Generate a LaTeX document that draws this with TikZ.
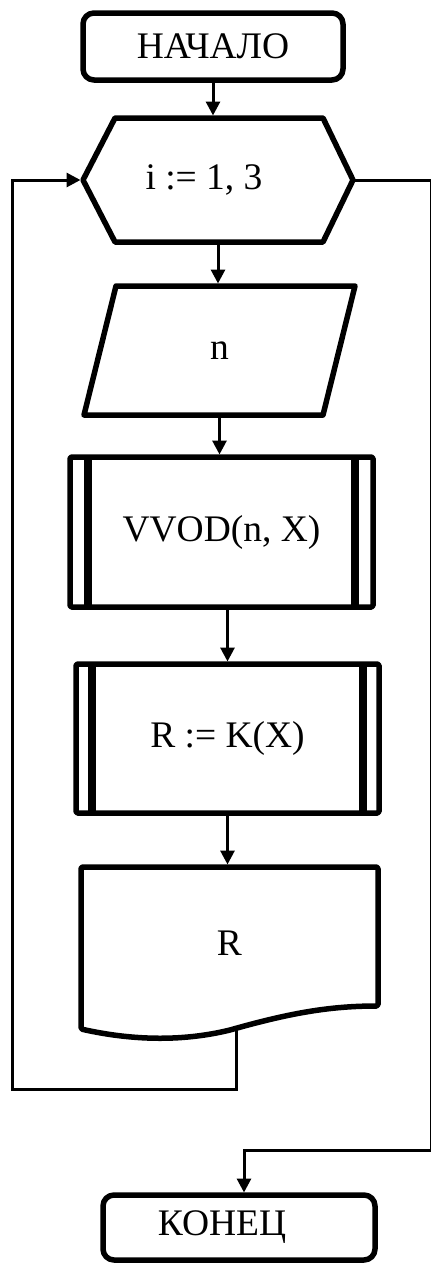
\documentclass[tikz,border=0pt]{standalone}
\usepackage{fontspec}
\setmainfont{Liberation Serif}
\usetikzlibrary{arrows.meta}
\begin{document}
\begin{tikzpicture}[x=1pt,y=-1pt,
  shp/.style={line width=5.5pt, line join=round, inner sep=0pt, outer sep=0pt, font=\fontsize{37.5}{40}\selectfont},
  term/.style={shp, draw, rounded corners=11pt},
  subr/.style={shp, draw, rounded corners=1.5pt},
  conn/.style={line width=3pt, shorten >=2.5pt, -{Triangle[length=14pt,width=14pt]}},
  bar/.style={line width=7.5pt}]
\useasboundingbox (0,0) rectangle (431,1269);

% start
\node[term, minimum width=260pt, minimum height=67pt] (start) at (213,46.5) {НАЧАЛО};

% loop hexagon
\node[shp, minimum width=270pt, minimum height=124pt] (hex) at (218,180) {\hspace*{-28pt}i := 1, 3};
\draw[shp] (hex.west) -- ([xshift=32pt]hex.north west) -- ([xshift=-30pt]hex.north east)
  -- (hex.east) -- ([xshift=-30pt]hex.south east) -- ([xshift=32pt]hex.south west) -- cycle;

% input parallelogram
\node[shp, minimum width=271pt, minimum height=129pt] (para) at (219.5,350.5) {n};
\draw[shp] ([xshift=32pt]para.north west) -- (para.north east)
  -- ([xshift=-32pt]para.south east) -- (para.south west) -- cycle;

% subroutine VVOD
\node[subr, minimum width=303pt, minimum height=150pt] (vvod) at (221.5,532) {VVOD(n, X)};
\draw[bar] ([xshift=18pt]vvod.north west) -- ([xshift=18pt]vvod.south west);
\draw[bar] ([xshift=-18pt]vvod.north east) -- ([xshift=-18pt]vvod.south east);

% subroutine K
\node[subr, minimum width=303pt, minimum height=149pt] (rk) at (227.5,738.5) {R := K(X)};
\draw[bar] ([xshift=16pt]rk.north west) -- ([xshift=16pt]rk.south west);
\draw[bar] ([xshift=-16pt]rk.north east) -- ([xshift=-16pt]rk.south east);

% document
\node[shp, minimum width=297pt, minimum height=152pt] (doc) at (229.5,943) {R};
\draw[shp, rounded corners=1.5pt] (doc.north west) -- (doc.north east) -- (378,1006)
  .. controls (330,1006) and (290,1013) .. (230,1030)
  .. controls (180,1042) and (130,1040) .. (81,1029) -- cycle;

% end
\node[term, minimum width=272pt, minimum height=65pt] (end) at (239,1227.5) {\hspace*{-34pt}КОНЕЦ};

% helper coordinates
\coordinate (docexit) at (236,1030);
\coordinate (loopL) at (12,1089);
\coordinate (exitR) at (431,1150);

% connectors
\draw[conn] (start.south) -- (start.south |- hex.north);
\draw[conn] (hex.south) -- (hex.south |- para.north);
\draw[conn] (para.south) -- (para.south |- vvod.north);
\draw[conn] (vvod.south -| rk.north) -- (rk.north);
\draw[conn] (rk.south) -- (rk.south |- doc.north);
\draw[conn] (docexit) |- (loopL) |- (hex.west);
\draw[conn] (hex.east) -| (exitR) -| ([xshift=5pt]end.north);
\end{tikzpicture}
\end{document}
